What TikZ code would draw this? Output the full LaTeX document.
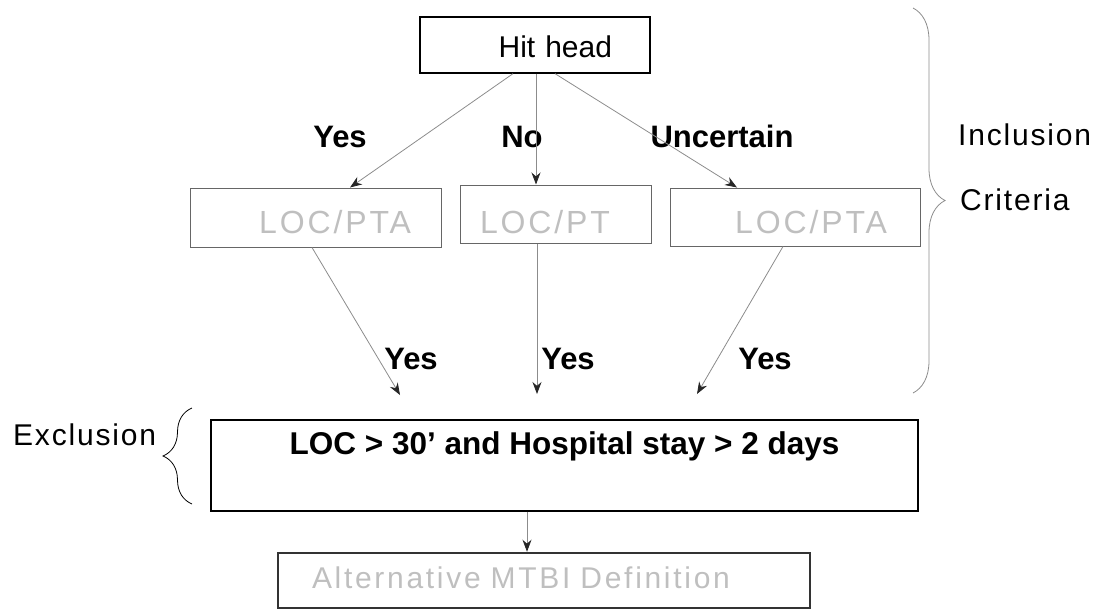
\documentclass[tikz,border=0pt]{standalone}
\usepackage{fontspec}
\setmainfont{Liberation Sans}
\newfontfamily\widefont[LetterSpace=6]{Liberation Sans}
\newfontfamily\greyfont[LetterSpace=9]{Liberation Sans}
\usetikzlibrary{arrows.meta, decorations.pathreplacing, positioning}

\begin{document}
\begin{tikzpicture}[x=1pt, y=-1pt,
    box/.style={draw, line width=1.3pt, inner ysep=0pt, font=\fontsize{30}{36}\selectfont},
    greybox/.style={draw=black!60, line width=1pt, text=black!25, inner ysep=0pt, font=\greyfont\fontsize{32}{36}\selectfont},
    answer/.style={anchor=base, font=\bfseries\fontsize{31}{36}\selectfont},
    side/.style={anchor=base west, inner sep=0pt, font=\widefont\fontsize{30}{36}\selectfont},
    flow/.style={draw=black!45, line width=0.8pt, -{Stealth[length=12pt,width=9pt,color=black!85]}}]
    \useasboundingbox (0,0) rectangle (1101,616);

    % boxes
    \node[box, minimum width=230pt, text height=40pt, text depth=16pt, align=right, text width=154pt, inner xsep=38pt] (hit) at (535,45) {Hit head};
    \node[greybox, minimum width=251pt, text height=45.5pt, text depth=13.5pt, align=right, text width=191pt, inner xsep=30pt] (loc_y) at (315.5,217.5) {LOC/PTA};
    \node[greybox, minimum width=191pt, text height=48.5pt, text depth=9.5pt, align=left, text width=151pt, inner xsep=20pt] (loc_n) at (555.5,214) {LOC/PT};
    \node[greybox, minimum width=250pt, text height=45.5pt, text depth=12.5pt, align=right, text width=184pt, inner xsep=33pt] (loc_u) at (795,217) {LOC/PTA};
    \node[box, font=\bfseries\fontsize{31.5}{36}\selectfont, minimum width=707pt, text height=30pt, text depth=53pt, inner ysep=4pt] (excl) at (564.5,465.5) {LOC > 30’ and Hospital stay > 2 days};
    \node[draw=black!80, line width=2.5pt, text=black!25, font=\greyfont\fontsize{30}{36}\selectfont, minimum width=532pt, text height=35pt, text depth=20pt, inner ysep=0pt, align=left, text width=464pt, inner xsep=34pt] (mtbi) at (544,580.5) {Alternative MTBI Definition};

    % answers
    \node[answer] (yes_1) at (340,147) {Yes};
    \node[answer] (no_1)  at (522,147) {No};
    \node[answer] (unc_1) at (722,147) {Uncertain};
    \node[answer] (yes_2) at (411,369) {Yes};
    \node[answer] (yes_3) at (568,369) {Yes};
    \node[answer] (yes_4) at (765,369) {Yes};

    % side labels
    \node[side] (incl)  at (958,145) {Inclusion};
    \node[side] (crit)  at (960,210) {Criteria};
    \node[side] (exclu) at (13,445)  {Exclusion};

    \coordinate (end_y) at (400,395);
    \coordinate (end_n) at (537,394);
    \coordinate (end_u) at (697,394);

    \draw[flow] ([xshift=-22pt]hit.south) -- ([xshift=34.5pt]loc_y.north);
    \draw[flow] ([xshift=1pt]hit.south) -- ([xshift=-19.5pt]loc_n.north);
    \draw[flow] ([xshift=20pt]hit.south) -- ([xshift=-58pt]loc_u.north);
    \draw[flow] ([xshift=-3.5pt]loc_y.south) -- (end_y);
    \draw[flow] ([xshift=-18.5pt]loc_n.south) -- (end_n);
    \draw[flow] ([xshift=-12pt]loc_u.south) -- (end_u);
    \draw[flow] ([xshift=-37.5pt]excl.south) -- ([xshift=-17pt]mtbi.north);

    % braces
    \draw[draw=black!45, line width=0.8pt, decorate, decoration={brace, amplitude=32pt}] (913,8) -- (913,393);
    \draw[line width=0.8pt, decorate, decoration={brace, amplitude=29pt}] (192,504) -- (192,408);
\end{tikzpicture}
\end{document}
